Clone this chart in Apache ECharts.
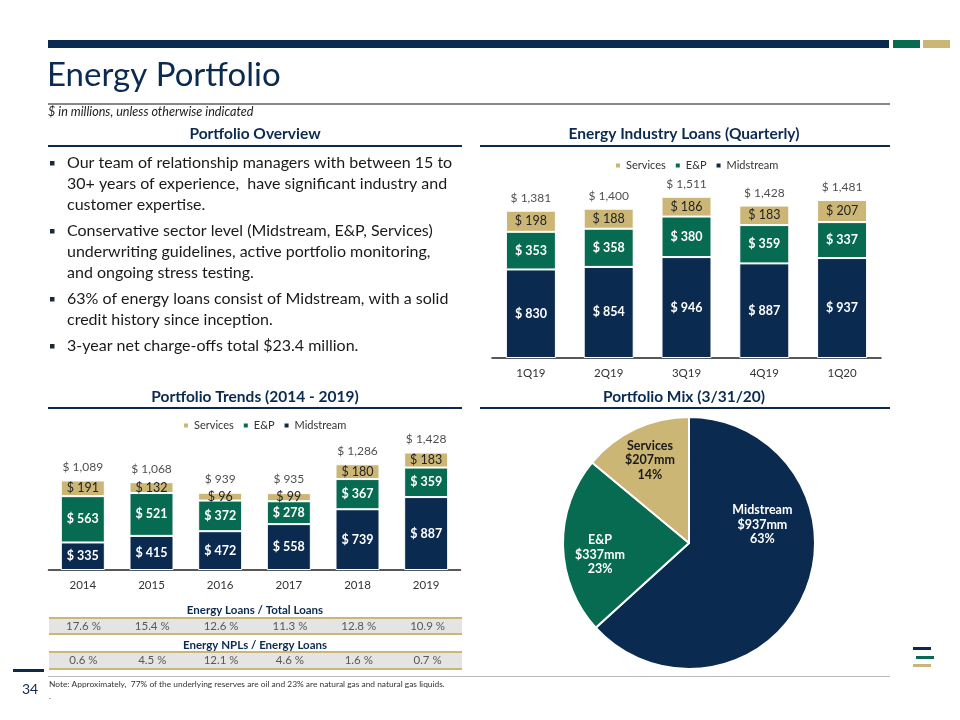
<!DOCTYPE html>
<html><head><meta charset="utf-8">
<script src="https://cdn.jsdelivr.net/npm/echarts@6/dist/echarts.min.js"></script>
<style>html,body{margin:0;padding:0;background:#fff}#c{width:960px;height:720px}</style>
</head><body><div id="c"></div>
<script>
// ---- data ----
const quarters = ['1Q19','2Q19','3Q19','4Q19','1Q20'];
const qMidstream = [830, 854, 946, 887, 937];
const qEP = [353, 358, 380, 359, 337];
const qServices = [198, 188, 186, 183, 207];
const qTotals = [1381, 1400, 1511, 1428, 1481];

const years = ['2014','2015','2016','2017','2018','2019'];
const yMidstream = [335, 415, 472, 558, 739, 887];
const yEP = [563, 521, 372, 278, 367, 359];
const yServices = [191, 132, 96, 99, 180, 183];
const yTotals = [1089, 1068, 939, 935, 1286, 1428];

const loanShare = [17.6, 15.4, 12.6, 11.3, 12.8, 10.9];
const nplShare = [0.6, 4.5, 12.1, 4.6, 1.6, 0.7];

const mixNames = ['Midstream','E&P','Services'];
const mixValues = [937, 337, 207];
const mixPct = [63, 23, 14];

const legendNames = ['Services','E&P','Midstream'];

const bullets = [
  ['Our team of relationship managers with between 15 to', '30+ years of experience,  have significant industry and', 'customer expertise.'],
  ['Conservative sector level (Midstream, E&P, Services)', 'underwriting guidelines, active portfolio monitoring,', 'and ongoing stress testing.'],
  ['63% of energy loans consist of Midstream, with a solid', 'credit history since inception.'],
  ['3-year net charge-offs total $23.4 million.']
];

// ---- styles ----
const NAVY = '#0b2a4f', GREEN = '#076b51', GOLD = '#cbb676';
const FONT = 'Lato, "Open Sans", sans-serif';
const money = v => '$ ' + v.toLocaleString('en-US');

const chart = echarts.init(document.getElementById('c'), null, {renderer: 'canvas'});

function stackSeries(xi, prefix, mid, ep, sv, totals, barW, totalDist) {
  const base = {type: 'bar', stack: prefix, xAxisIndex: xi, yAxisIndex: xi, barWidth: barW};
  const lab = (color, weight) => ({show: true, position: 'inside', color: color, fontWeight: weight,
    fontSize: 12.5, fontFamily: FONT, formatter: p => money(p.value)});
  return [
    Object.assign({}, base, {name: 'Midstream', data: mid,
      itemStyle: {color: NAVY, borderColor: '#fff', borderWidth: 1}, label: lab('#fff', 'bold')}),
    Object.assign({}, base, {name: 'E&P', data: ep,
      itemStyle: {color: GREEN, borderColor: '#fff', borderWidth: 1}, label: lab('#fff', 'bold')}),
    Object.assign({}, base, {name: 'Services', data: sv,
      itemStyle: {color: GOLD, borderColor: '#fff', borderWidth: 1}, label: lab('#222', 'normal')}),
    {type: 'scatter', name: prefix + 'total', xAxisIndex: xi, yAxisIndex: xi, data: totals, symbolSize: 1,
      silent: true, itemStyle: {color: 'rgba(0,0,0,0)'},
      label: {show: true, position: 'top', distance: totalDist, color: '#222', fontSize: 12, fontFamily: FONT,
        formatter: p => money(p.value)}}
  ];
}

function tableSeries(xi, vals) {
  return {type: 'scatter', xAxisIndex: xi, yAxisIndex: xi, symbolSize: 1, silent: true,
    itemStyle: {color: 'rgba(0,0,0,0)'},
    data: vals.map(v => 0.5),
    label: {show: true, position: 'inside', color: '#333', fontSize: 11.5, fontFamily: FONT,
      formatter: p => vals[p.dataIndex].toFixed(1) + ' %'}};
}

const catAxis = (gi, cats, show) => ({type: 'category', gridIndex: gi, data: cats,
  axisTick: {show: false},
  axisLine: {show: show, lineStyle: {color: '#222', width: 1.5}},
  axisLabel: {show: show, color: '#333', fontSize: 11.5, fontFamily: FONT, margin: 9}});
const valAxis = (gi, max) => ({type: 'value', gridIndex: gi, min: 0, max: max, show: false, splitLine: {show: false}});

function txt(text, x, y, size, opts) {
  opts = opts || {};
  return {type: 'text', silent: true, style: {text: text, x: x, y: y,
    fill: opts.color || '#222', font: (opts.style || 'normal') + ' ' + (opts.weight || 'normal') + ' ' + size + 'px ' + FONT,
    textAlign: opts.align || 'left', textVerticalAlign: 'middle'}};
}
const rect = (x, y, w, h, color) => ({type: 'rect', silent: true, shape: {x: x, y: y, width: w, height: h}, style: {fill: color}});

const graphics = [
  rect(48, 40, 841, 8, NAVY), rect(893, 40, 27, 8, GREEN), rect(923, 40, 27, 8, GOLD),
  txt('Energy Portfolio', 47, 75, 33, {color: NAVY, weight: 'normal'}),
  rect(48, 103.5, 842, 1, '#111'),
  txt('$ in millions, unless otherwise indicated', 48, 112, 12.6, {style: 'italic', color: '#222'}),
  txt('Portfolio Overview', 255, 134, 15.5, {weight: 'bold', color: NAVY, align: 'center'}),
  rect(48, 145, 414, 2, NAVY),
  txt('Energy Industry Loans (Quarterly)', 684, 134, 15.5, {weight: 'bold', color: NAVY, align: 'center'}),
  rect(480, 145, 410, 2, NAVY),
  txt('Portfolio Trends (2014 - 2019)', 255, 397, 15.5, {weight: 'bold', color: NAVY, align: 'center'}),
  rect(48, 407, 414, 2, NAVY),
  txt('Portfolio Mix (3/31/20)', 684, 397, 15.5, {weight: 'bold', color: NAVY, align: 'center'}),
  rect(480, 407, 410, 2, NAVY),
  txt('Energy Loans / Total Loans', 255, 610, 11.5, {weight: 'bold', color: NAVY, align: 'center'}),
  txt('Energy NPLs / Energy Loans', 255, 645, 11.5, {weight: 'bold', color: NAVY, align: 'center'}),
  rect(49, 617, 413, 2, GOLD), rect(49, 633, 413, 2, GOLD),
  rect(49, 651, 413, 2, GOLD), rect(49, 668, 413, 2, GOLD),
  rect(13, 669, 31, 3, NAVY),
  txt('34', 30, 689, 14, {color: NAVY, align: 'center'}),
  rect(48, 676, 842, 1, '#bbb'),
  txt('Note: Approximately,  77% of the underlying reserves are oil and 23% are natural gas and natural gas liquids.', 49, 684, 8.4, {color: '#333'}),
  txt('.', 49, 696, 8, {color: '#333'}),
  rect(913, 647, 18, 3, NAVY), rect(916, 656, 18, 3, GREEN), rect(913, 664, 18, 3, GOLD)
];
let by = 163;
bullets.forEach((lines, bi) => {
  graphics.push(rect(50, by - 2, 4.5, 4.5, '#1c2a3a'));
  lines.forEach((l, li) => {
    graphics.push(txt(l, 67, by, 16, {color: '#1a1a1a'}));
    by += 21;
  });
  by += 5;
});

const option = {
  animation: false,
  backgroundColor: '#fff',
  textStyle: {fontFamily: FONT},
  legend: [
    {data: legendNames, left: 609, top: 155, icon: 'rect', itemWidth: 6, itemHeight: 6, itemGap: 8,
      textStyle: {fontSize: 11, color: '#333', fontFamily: FONT}, selectedMode: false},
    {data: legendNames, left: 177, top: 415, icon: 'rect', itemWidth: 6, itemHeight: 6, itemGap: 8,
      textStyle: {fontSize: 11, color: '#333', fontFamily: FONT}, selectedMode: false}
  ],
  grid: [
    {left: 492, width: 389, top: 166, height: 192},
    {left: 48.5, width: 412, top: 422, height: 148},
    {left: 49, width: 413, top: 619, height: 14, show: true, backgroundColor: '#e4e4e4', borderWidth: 0},
    {left: 49, width: 413, top: 653, height: 15, show: true, backgroundColor: '#e4e4e4', borderWidth: 0}
  ],
  xAxis: [catAxis(0, quarters, true), catAxis(1, years, true), catAxis(2, years, false), catAxis(3, years, false)],
  yAxis: [valAxis(0, 1800), valAxis(1, 1800), valAxis(2, 1), valAxis(3, 1)],
  series: [].concat(
    stackSeries(0, 'q', qMidstream, qEP, qServices, qTotals, 50, 6),
    stackSeries(1, 'y', yMidstream, yEP, yServices, yTotals, 44, 7),
    [tableSeries(2, loanShare), tableSeries(3, nplShare),
    {type: 'pie', center: [689, 543], radius: 126, startAngle: 90, clockwise: true, silent: true,
      itemStyle: {borderColor: '#fff', borderWidth: 2},
      labelLine: {show: false},
      data: mixNames.map((n, i) => ({name: n, value: mixValues[i],
        itemStyle: {color: [NAVY, GREEN, GOLD][i]},
        label: {offset: [[13, -45], [-23, 10], [-11, -23]][i], color: ['#fff', '#fff', '#1a1a1a'][i]}})),
      label: {show: true, position: 'inside', fontSize: 12.5, fontWeight: 'bold', lineHeight: 14.5, fontFamily: FONT,
        formatter: p => p.name + '\n$' + p.value + 'mm\n' + mixPct[p.dataIndex] + '%'}}]
  ),
  graphic: graphics
};
chart.setOption(option);
</script>
</body></html>
